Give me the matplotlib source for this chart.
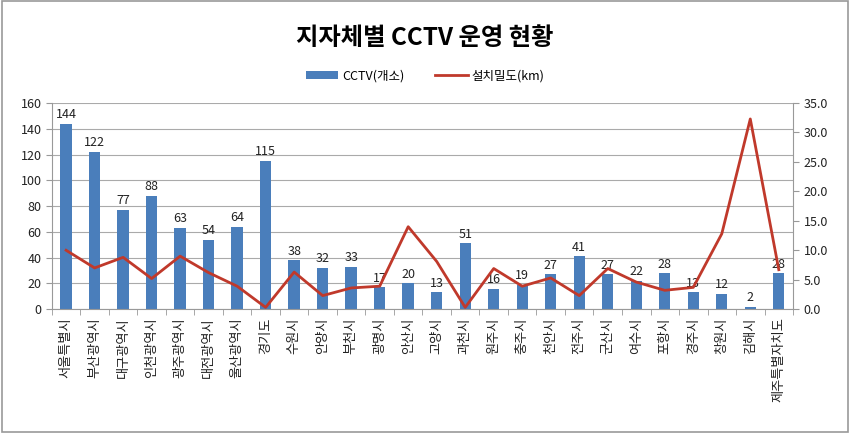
import matplotlib.pyplot as plt
from matplotlib.patches import Rectangle
import numpy as np

plt.rcParams['font.family'] = ['Noto Sans CJK KR', 'DejaVu Sans']

regions = ['서울특별시', '부산광역시', '대구광역시', '인천광역시', '광주광역시', '대전광역시',
           '울산광역시', '경기도', '수원시', '안양시', '부천시', '광명시', '안산시', '고양시',
           '과천시', '원주시', '충주시', '천안시', '전주시', '군산시', '여수시', '포항시',
           '경주시', '창원시', '김해시', '제주특별자치도']
cctv = [144, 122, 77, 88, 63, 54, 64, 115, 38, 32, 33, 17, 20, 13,
        51, 16, 19, 27, 41, 27, 22, 28, 13, 12, 2, 28]
density = [10.0, 7.0, 8.8, 5.2, 9.0, 6.2, 3.9, 0.3, 6.3, 2.3, 3.6, 3.9, 14.0, 8.1,
           0.3, 6.9, 3.9, 5.3, 2.3, 6.9, 4.6, 3.2, 3.7, 12.8, 32.3, 6.7]

bar_color = '#4a7ebb'
line_color = '#c0392b'

fig = plt.figure(figsize=(8.5, 4.33), dpi=100)
ax = fig.add_axes([0.061, 0.286, 0.872, 0.476])
x = np.arange(len(regions))

bars = ax.bar(x, cctv, width=0.4, color=bar_color, label='CCTV(개소)', zorder=2)
for xi, v in zip(x, cctv):
    ax.text(xi, v + 2, str(v), ha='center', va='bottom', fontsize=9, color='#222222')

ax.set_ylim(0, 160)
ax.set_yticks(range(0, 161, 20))
ax.set_xlim(-0.5, len(regions) - 0.5)
ax.set_xticks(x)
ax.set_xticklabels(regions, rotation=90, fontsize=9.5, color='#222222')
ax.tick_params(axis='x', length=0, pad=6)
ax.set_xticks(np.arange(-0.5, len(regions), 1), minor=True)
ax.tick_params(axis='x', which='minor', length=4, color='#999999')
ax.tick_params(axis='y', labelsize=9, length=4, color='#999999', labelcolor='#222222')
ax.grid(axis='y', color='#aaaaaa', linewidth=0.8, zorder=0)
for s in ['top', 'right']:
    ax.spines[s].set_visible(False)
for s in ['left', 'bottom']:
    ax.spines[s].set_color('#999999')

ax2 = ax.twinx()
line, = ax2.plot(x, density, color=line_color, linewidth=2, label='설치밀도(km)', zorder=3)
ax2.set_ylim(0, 35)
ax2.set_yticks(np.arange(0, 35.1, 5))
ax2.set_yticklabels([f'{v:.1f}' for v in np.arange(0, 35.1, 5)])
ax2.tick_params(axis='y', labelsize=9, length=4, color='#999999', labelcolor='#222222')
for s in ['top', 'left', 'bottom']:
    ax2.spines[s].set_visible(False)
ax2.spines['right'].set_color('#999999')

fig.text(0.5, 0.912, '지자체별 CCTV 운영 현황', ha='center', va='center',
         fontsize=17.5, fontweight='bold')
fig.legend(handles=[bars, line], loc='center', bbox_to_anchor=(0.5, 0.825), ncol=2,
           frameon=False, fontsize=9, handlelength=2.6, handleheight=0.6,
           columnspacing=2.5, handletextpad=0.3)

fig.patches.append(Rectangle((0.002, 0.003), 0.996, 0.994, transform=fig.transFigure,
                             fill=False, edgecolor='#999999', linewidth=1.2))

fig.savefig('out.png', dpi=100)
